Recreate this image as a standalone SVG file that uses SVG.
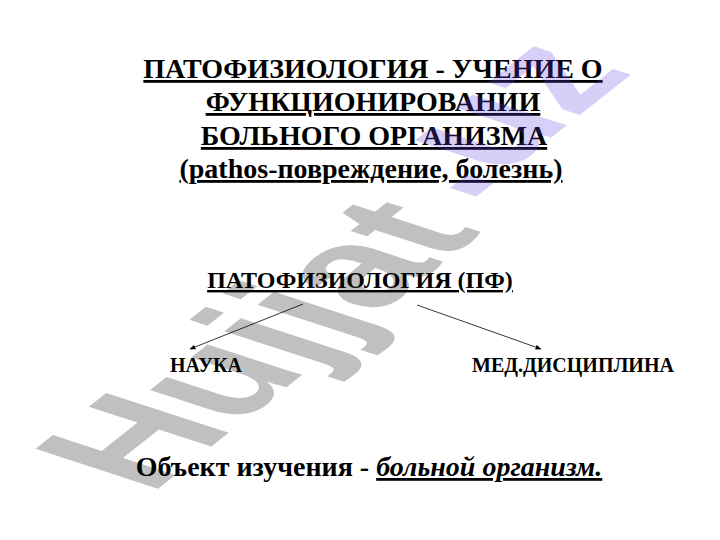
<svg xmlns="http://www.w3.org/2000/svg" width="720" height="540" viewBox="0 0 720 540">
<style>
.t{font-family:"Liberation Serif","Times New Roman",serif;font-weight:bold;fill:#000;text-anchor:middle}
.u{text-decoration:underline}
.wm{font-family:"Liberation Sans",Arial,sans-serif;font-weight:bold;font-size:100px}
.conn line{stroke:#000;stroke-width:0.8;fill:none}
</style>
<defs>
<marker id="ah" viewBox="0 0 10 10" refX="9" refY="5" markerWidth="6" markerHeight="6" markerUnits="userSpaceOnUse" orient="auto">
<path d="M0,1 L10,5 L0,9 z" fill="#000"/>
</marker>
</defs>
<rect width="720" height="540" fill="#fff"/>
<g id="watermark-back">
<text class="wm" fill="#c0c0c0" transform="matrix(1.2 -0.95 1.78 0.58 150 495)" x="0" y="0">Hujjat</text>
</g>
<g id="title">
<text class="t u" font-size="28" x="373" y="78">ПАТОФИЗИОЛОГИЯ - УЧЕНИЕ О</text>
<text class="t u" font-size="28" x="373" y="111">ФУНКЦИОНИРОВАНИИ</text>
<text class="t u" font-size="28" x="374" y="145">БОЛЬНОГО ОРГАНИЗМА</text>
<text class="t u" font-size="28" x="371" y="178">(pathos-повреждение, болезнь)</text>
</g>
<g id="node-pf">
<text class="t u" font-size="24" x="360" y="288">ПАТОФИЗИОЛОГИЯ (ПФ)</text>
</g>
<g id="node-nauka">
<text class="t" font-size="20" x="206" y="372">НАУКА</text>
</g>
<g id="node-med">
<text class="t" font-size="20" x="573" y="372">МЕД.ДИСЦИПЛИНА</text>
</g>
<g class="conn" id="connectors">
<line x1="303" y1="304" x2="190" y2="349" marker-end="url(#ah)"/>
<line x1="417" y1="305" x2="541" y2="349" marker-end="url(#ah)"/>
</g>
<g id="object">
<text class="t" font-size="28" x="369" y="476">Объект изучения - <tspan font-style="italic" text-decoration="underline">больной организм.</tspan></text>
</g>
<g id="watermark-front">
<text class="wm" fill="#6040e0" fill-opacity="0.25" transform="translate(-15,-28) matrix(1.2 -0.95 1.78 0.58 150 495)" x="277.8" y="0">.uz</text>
</g>
</svg>
